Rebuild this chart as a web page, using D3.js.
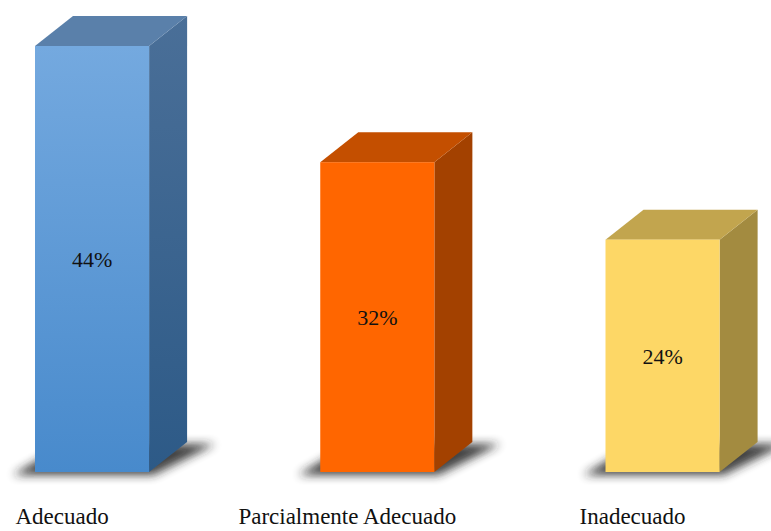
<!DOCTYPE html>
<html>
<head>
<meta charset="utf-8">
<script src="https://cdn.jsdelivr.net/npm/d3@7"></script>
<style>
html,body{margin:0;padding:0;background:#fff;}
svg{display:block;}
text{font-family:"Liberation Serif","Times New Roman",Times,"DejaVu Serif",serif;}
</style>
</head>
<body>
<svg id="chart" width="771" height="531"></svg>
<script>
const categories = ["Adecuado", "Parcialmente Adecuado", "Inadecuado"];
const values = [44, 32, 24];
const valueLabels = ["44%", "32%", "24%"];
const frontTop = ["#74a9df", "#ff6600", "#fdd766"];
const frontBottom = ["#488acc", "#ff6600", "#fdd766"];
const topColors = ["#5a80aa", "#c44f00", "#c2a54e"];
const sideTop = ["#4a6f98", "#a34100", "#a38b40"];
const sideBottom = ["#2d5a87", "#a34100", "#a38b40"];

const svg = d3.select("#chart");
const x = d3.scaleBand().domain(categories).range([35, 719.6]).paddingInner(0.6).paddingOuter(0);
const y = d3.scaleLinear().domain([0, 44]).range([472, 46]);
const dx = 38, dy = -30;

const defs = svg.append("defs");
const blur = defs.append("filter").attr("id", "shadowBlur")
  .attr("x", "-30%").attr("y", "-100%").attr("width", "160%").attr("height", "300%");
blur.append("feGaussianBlur").attr("stdDeviation", 5);

categories.forEach((c, i) => {
  const g1 = defs.append("linearGradient").attr("id", "front" + i)
    .attr("x1", 0).attr("y1", 0).attr("x2", 0).attr("y2", 1);
  g1.append("stop").attr("offset", "0%").attr("stop-color", frontTop[i]);
  g1.append("stop").attr("offset", "100%").attr("stop-color", frontBottom[i]);
  const g2 = defs.append("linearGradient").attr("id", "side" + i)
    .attr("x1", 0).attr("y1", 0).attr("x2", 0).attr("y2", 1);
  g2.append("stop").attr("offset", "0%").attr("stop-color", sideTop[i]);
  g2.append("stop").attr("offset", "100%").attr("stop-color", sideBottom[i]);
});

const bars = svg.selectAll("g.bar").data(categories).join("g").attr("class", "bar");

bars.each(function(c, i) {
  const g = d3.select(this);
  const x0 = x(c), w = x.bandwidth();
  const y0 = y(values[i]), yb = y(0);
  // floor shadow
  g.append("path")
    .attr("d", `M${x0 - 22},${yb + 3} L${x0 + w + 4},${yb + 3} L${x0 + w + dx + 28},${yb + dy + 2} L${x0 + dx - 8},${yb + dy + 2} Z`)
    .attr("fill", "#222").attr("opacity", 0.85).attr("filter", "url(#shadowBlur)");
  // side face
  g.append("path")
    .attr("d", `M${x0 + w},${y0} L${x0 + w + dx},${y0 + dy} L${x0 + w + dx},${yb + dy} L${x0 + w},${yb} Z`)
    .attr("fill", `url(#side${i})`);
  // top face
  g.append("path")
    .attr("d", `M${x0},${y0} L${x0 + dx},${y0 + dy} L${x0 + w + dx},${y0 + dy} L${x0 + w},${y0} Z`)
    .attr("fill", topColors[i]);
  // front face
  g.append("rect")
    .attr("x", x0).attr("y", y0).attr("width", w).attr("height", yb - y0)
    .attr("fill", `url(#front${i})`);
  // value label
  g.append("text")
    .attr("x", x0 + w / 2).attr("y", (y0 + yb) / 2 + 8)
    .attr("text-anchor", "middle")
    .style("font-size", "22px").attr("fill", "#111")
    .text(valueLabels[i]);
  // category label
  g.append("text")
    .attr("x", x0 + w / 2 - 30).attr("y", 524)
    .attr("text-anchor", "middle")
    .style("font-size", "23px").attr("fill", "#111")
    .text(c);
});
</script>
</body>
</html>
